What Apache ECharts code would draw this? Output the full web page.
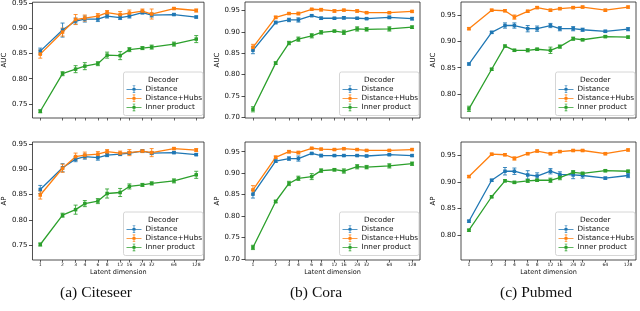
<!DOCTYPE html>
<html><head><meta charset="utf-8">
<script src="https://cdn.jsdelivr.net/npm/echarts@6/dist/echarts.min.js"></script>
<style>html,body{margin:0;padding:0;background:#fff}#c{width:640px;height:311px}</style>
</head><body><div id="c"></div>
<script>
const dims = [1,2,3,4,6,8,12,16,24,32,64,128];
const seriesNames = ['Distance','Distance+Hubs','Inner product'];
const colors = ['#1f77b4','#ff7f0e','#2ca02c'];
const captions = ['(a) Citeseer','(b) Cora','(c) Pubmed'];

// Citeseer AUC
const citeseerAucDist  = [0.855,0.897,0.915,0.919,0.919,0.925,0.922,0.925,0.932,0.927,0.928,0.923];
const citeseerAucHubs  = [0.849,0.893,0.918,0.921,0.925,0.932,0.928,0.931,0.935,0.929,0.940,0.936];
const citeseerAucInner = [0.735,0.810,0.819,0.825,0.830,0.847,0.846,0.858,0.861,0.863,0.869,0.879];
const citeseerAucDistErr  = [0.006,0.014,0.006,0.006,0.005,0.004,0.004,0.004,0.003,0.004,0.002,0.002];
const citeseerAucHubsErr  = [0.008,0.008,0.010,0.006,0.005,0.004,0.006,0.006,0.004,0.010,0.002,0.003];
const citeseerAucInnerErr = [0.003,0.004,0.007,0.007,0.004,0.006,0.008,0.004,0.003,0.004,0.004,0.007];
// Cora AUC
const coraAucDist  = [0.857,0.922,0.928,0.928,0.938,0.932,0.932,0.933,0.932,0.931,0.934,0.931];
const coraAucHubs  = [0.864,0.934,0.943,0.943,0.953,0.952,0.949,0.951,0.949,0.945,0.945,0.948];
const coraAucInner = [0.719,0.827,0.874,0.883,0.891,0.899,0.902,0.899,0.907,0.906,0.907,0.911];
const coraAucDistErr  = [0.008,0.003,0.004,0.005,0.002,0.003,0.002,0.003,0.002,0.002,0.003,0.003];
const coraAucHubsErr  = [0.007,0.003,0.002,0.003,0.002,0.003,0.003,0.002,0.003,0.002,0.002,0.002];
const coraAucInnerErr = [0.006,0.003,0.004,0.005,0.005,0.004,0.002,0.005,0.005,0.004,0.005,0.003];
// Pubmed AUC
const pubmedAucDist  = [0.857,0.917,0.930,0.930,0.924,0.924,0.930,0.924,0.924,0.922,0.919,0.923];
const pubmedAucHubs  = [0.924,0.959,0.958,0.946,0.957,0.964,0.959,0.962,0.964,0.965,0.959,0.965];
const pubmedAucInner = [0.772,0.847,0.891,0.883,0.883,0.885,0.883,0.890,0.905,0.903,0.909,0.908];
const pubmedAucDistErr  = [0.002,0.002,0.005,0.005,0.006,0.005,0.004,0.004,0.004,0.003,0.002,0.003];
const pubmedAucHubsErr  = [0.002,0.002,0.002,0.004,0.002,0.002,0.002,0.002,0.002,0.002,0.002,0.002];
const pubmedAucInnerErr = [0.005,0.002,0.002,0.002,0.003,0.002,0.006,0.003,0.003,0.002,0.002,0.002];
// Citeseer AP
const citeseerApDist  = [0.860,0.903,0.920,0.925,0.923,0.928,0.930,0.932,0.936,0.932,0.933,0.929];
const citeseerApHubs  = [0.849,0.902,0.925,0.928,0.930,0.935,0.932,0.933,0.936,0.933,0.941,0.938];
const citeseerApInner = [0.751,0.809,0.820,0.832,0.837,0.852,0.854,0.866,0.869,0.872,0.877,0.889];
const citeseerApDistErr  = [0.008,0.008,0.005,0.005,0.005,0.003,0.003,0.003,0.002,0.003,0.002,0.002];
const citeseerApHubsErr  = [0.008,0.008,0.007,0.006,0.005,0.004,0.004,0.006,0.003,0.008,0.002,0.003];
const citeseerApInnerErr = [0.003,0.004,0.009,0.006,0.005,0.009,0.008,0.005,0.003,0.003,0.004,0.007];
// Cora AP
const coraApDist  = [0.851,0.928,0.934,0.934,0.946,0.941,0.941,0.941,0.941,0.940,0.943,0.941];
const coraApHubs  = [0.861,0.937,0.950,0.948,0.958,0.956,0.955,0.957,0.955,0.953,0.953,0.955];
const coraApInner = [0.727,0.834,0.876,0.888,0.892,0.906,0.908,0.905,0.915,0.914,0.917,0.922];
const coraApDistErr  = [0.009,0.003,0.004,0.006,0.002,0.003,0.002,0.002,0.002,0.002,0.002,0.002];
const coraApHubsErr  = [0.010,0.003,0.003,0.003,0.002,0.002,0.002,0.002,0.002,0.002,0.002,0.002];
const coraApInnerErr = [0.005,0.003,0.005,0.005,0.007,0.004,0.003,0.005,0.005,0.004,0.005,0.004];
// Pubmed AP
const pubmedApDist  = [0.826,0.903,0.920,0.920,0.913,0.911,0.920,0.914,0.913,0.912,0.907,0.912];
const pubmedApHubs  = [0.910,0.952,0.951,0.944,0.953,0.958,0.953,0.957,0.959,0.959,0.953,0.960];
const pubmedApInner = [0.809,0.872,0.902,0.899,0.902,0.903,0.903,0.908,0.918,0.916,0.921,0.920];
const pubmedApDistErr  = [0.002,0.002,0.007,0.006,0.008,0.006,0.005,0.005,0.007,0.005,0.002,0.004];
const pubmedApHubsErr  = [0.002,0.002,0.002,0.003,0.002,0.002,0.002,0.002,0.002,0.002,0.002,0.002];
const pubmedApInnerErr = [0.002,0.002,0.002,0.002,0.003,0.002,0.004,0.004,0.003,0.002,0.002,0.002];

const yTicks1 = [0.75,0.80,0.85,0.90,0.95];
const yTicks2 = [0.70,0.75,0.80,0.85,0.90,0.95];
const yTicks3 = [0.80,0.85,0.90,0.95];

const panels = [
  {row:0,col:0,name:'AUC',ymin:0.7216,ymax:0.9526,ticks:yTicks1,vals:[citeseerAucDist,citeseerAucHubs,citeseerAucInner],errs:[citeseerAucDistErr,citeseerAucHubsErr,citeseerAucInnerErr]},
  {row:0,col:1,name:'AUC',ymin:0.6986,ymax:0.970,ticks:yTicks2,vals:[coraAucDist,coraAucHubs,coraAucInner],errs:[coraAucDistErr,coraAucHubsErr,coraAucInnerErr]},
  {row:0,col:2,name:'AUC',ymin:0.7546,ymax:0.9746,ticks:yTicks3,vals:[pubmedAucDist,pubmedAucHubs,pubmedAucInner],errs:[pubmedAucDistErr,pubmedAucHubsErr,pubmedAucInnerErr]},
  {row:1,col:0,name:'AP',ymin:0.7203,ymax:0.954,ticks:yTicks1,vals:[citeseerApDist,citeseerApHubs,citeseerApInner],errs:[citeseerApDistErr,citeseerApHubsErr,citeseerApInnerErr]},
  {row:1,col:1,name:'AP',ymin:0.6977,ymax:0.9726,ticks:yTicks2,vals:[coraApDist,coraApHubs,coraApInner],errs:[coraApDistErr,coraApHubsErr,coraApInnerErr]},
  {row:1,col:2,name:'AP',ymin:0.753,ymax:0.975,ticks:yTicks3,vals:[pubmedApDist,pubmedApHubs,pubmedApInner],errs:[pubmedApDistErr,pubmedApHubsErr,pubmedApInnerErr]}
];

const colLeft = [29,245,461];
const rowTop = [2,142];
const rowH = [116,118];
const gridW = 175;
const FONT = 'DejaVu Sans';

const grid=[], xAxis=[], yAxis=[], series=[], legend=[], graphic=[];
panels.forEach((p,i)=>{
  const L = colLeft[p.col], T = rowTop[p.row], H = rowH[p.row];
  grid.push({left:L, top:T, width:gridW, height:H, show:true, borderColor:'#222', borderWidth:0.8, backgroundColor:'transparent'});
  xAxis.push({
    type:'log', logBase:2, gridIndex:i, min:0.785, max:163,
    name: p.row===1 ? 'Latent dimension' : '', nameLocation:'middle', nameGap:9,
    nameTextStyle:{fontFamily:FONT, fontSize:6.5, color:'#111'},
    axisLine:{show:false},
    axisTick:{show:true, length:2.5, lineStyle:{color:'#222', width:0.7}, customValues:dims},
    axisLabel:{show:p.row===1, fontFamily:FONT, fontSize:4.5, color:'#111', margin:2, customValues:dims,
      showMinLabel:true, showMaxLabel:true, hideOverlap:false,
      formatter:v=>String(Math.round(v))},
    splitLine:{show:false}, minorTick:{show:false}
  });
  yAxis.push({
    type:'value', gridIndex:i, min:p.ymin, max:p.ymax,
    name:p.name, nameLocation:'middle', nameGap:21, nameRotate:90,
    nameTextStyle:{fontFamily:FONT, fontSize:7, color:'#111'},
    axisLine:{show:false},
    axisTick:{show:true, length:3.5, lineStyle:{color:'#222', width:0.8}, customValues:p.ticks},
    axisLabel:{fontFamily:FONT, fontSize:7, color:'#111', margin:5, customValues:p.ticks, formatter:v=>v.toFixed(2)},
    splitLine:{show:false}
  });
  p.vals.forEach((vals,k)=>{
    const errs = p.errs[k];
    series.push({
      type:'line', name:seriesNames[k], xAxisIndex:i, yAxisIndex:i,
      data: dims.map((d,j)=>[d, vals[j]]),
      symbol:'rect', symbolSize:3.5, showSymbol:true,
      lineStyle:{color:colors[k], width:1.3}, itemStyle:{color:colors[k]},
      z:3, animation:false
    });
    series.push({
      type:'custom', name:seriesNames[k], xAxisIndex:i, yAxisIndex:i,
      data: dims.map((d,j)=>[d, vals[j]-errs[j], vals[j]+errs[j]]),
      encode:{x:0, y:[1,2]},
      itemStyle:{color:colors[k]},
      renderItem:(params, api)=>{
        const x=api.value(0), lo=api.value(1), hi=api.value(2);
        const a=api.coord([x,lo]), b=api.coord([x,hi]);
        const c=2, col=colors[k];
        const st={stroke:col, lineWidth:1, opacity:0.85};
        return {type:'group', children:[
          {type:'line', shape:{x1:a[0],y1:a[1],x2:b[0],y2:b[1]}, style:st},
          {type:'line', shape:{x1:a[0]-c,y1:a[1],x2:a[0]+c,y2:a[1]}, style:st},
          {type:'line', shape:{x1:b[0]-c,y1:b[1],x2:b[0]+c,y2:b[1]}, style:st}
        ]};
      },
      z:2, animation:false, silent:true
    });
  });
  // legend box
  const bx = L + 94.5, by = T + 70, bw = 79.5, bh = 43.5;
  graphic.push({type:'rect', shape:{x:bx, y:by, width:bw, height:bh, r:2}, style:{fill:'rgba(255,255,255,0.85)', stroke:'#cccccc', lineWidth:0.8}, z:10});
  graphic.push({type:'text', x:bx+bw/2, y:by+8, style:{text:'Decoder', fontFamily:FONT, fontSize:7.3, fill:'#111', align:'center', verticalAlign:'middle'}, z:11});
  legend.push({
    data:seriesNames, orient:'vertical', left:bx+3, top:by+13.5, itemGap:1.6,
    itemWidth:15, itemHeight:8, padding:0, z:12,
    icon:'path://M0,4.5H20V5.5H0Z M9.5,0H10.5V10H9.5Z M8,3.2H12V6.8H8Z M8.2,0H11.8V0.8H8.2Z M8.2,9.2H11.8V10H8.2Z',
    textStyle:{fontFamily:FONT, fontSize:7.3, color:'#111', padding:[0,0,0,-1]},
    selectedMode:false
  });
});
const capX = [96, 316, 536];
captions.forEach((t,i)=>{
  graphic.push({type:'text', x:capX[i], y:293, style:{text:t, fontFamily:'Liberation Serif', fontSize:15.5, fill:'#111', align:'center', verticalAlign:'middle'}});
});

const chart = echarts.init(document.getElementById('c'), null, {renderer:'canvas'});
chart.setOption({animation:false, backgroundColor:'#fff', grid, xAxis, yAxis, series, legend, graphic});
</script>
</body></html>
